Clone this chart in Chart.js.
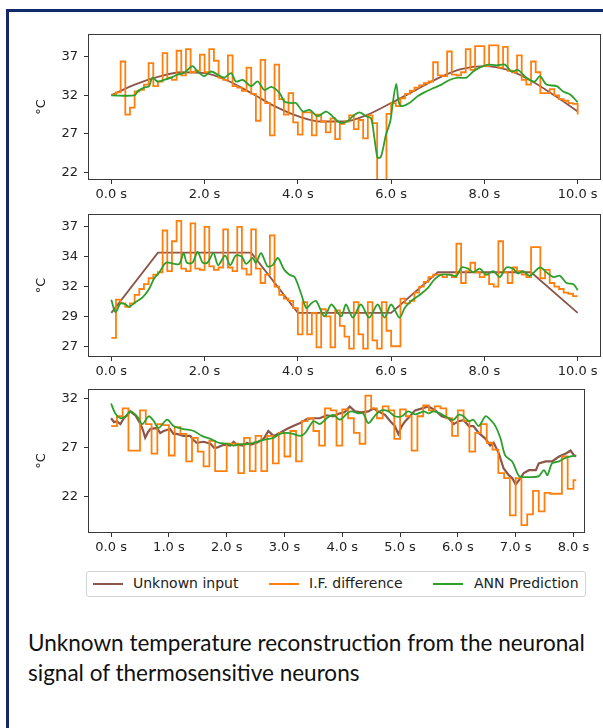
<!DOCTYPE html>
<html>
<head>
<meta charset="utf-8">
<script src="https://cdn.jsdelivr.net/npm/chart.js@4"></script>
<style>
  body { margin: 0; background: #fff; width: 603px; height: 728px; overflow: hidden; position: relative; font-family: "DejaVu Sans", sans-serif; }
  #box { position: absolute; left: 6px; top: 9px; width: 700px; height: 800px; border: 3px solid #13296b; box-sizing: border-box; }
  canvas { position: absolute; left: 0; }
  #legend { position: absolute; left: 86px; top: 571px; width: 500px; height: 26px; border: 1px solid #d4d4d4; border-radius: 3px; box-sizing: border-box; background: #fff; }
  #legend .ln { position: absolute; top: 11px; width: 30px; height: 2px; }
  #legend .lt { position: absolute; top: 3px; font-size: 14px; color: #222; white-space: nowrap; }
  #caption { position: absolute; left: 28px; top: 628px; font-family: Lato, sans-serif; color: #111; line-height: 30px; white-space: nowrap; }
</style>
</head>
<body>
<div id="box"></div>
<canvas id="c1" width="603" height="192" style="top:20px"></canvas>
<canvas id="c2" width="603" height="190" style="top:200px"></canvas>
<canvas id="c3" width="603" height="190" style="top:375px"></canvas>
<div id="legend">
  <span class="ln" style="left:6px;background:#8c564b"></span><span class="lt" style="left:46px">Unknown input</span>
  <span class="ln" style="left:182px;background:#ff7f0e"></span><span class="lt" style="left:222px">I.F. difference</span>
  <span class="ln" style="left:346px;background:#2ca02c"></span><span class="lt" style="left:387px">ANN Prediction</span>
</div>
<div id="caption"><div id="cap1">Unknown temperature reconstruction from the neuronal</div><div>signal of thermosensitive neurons</div></div>
<script>
// ---- panel 1 (sine input) ----
const xTicks1 = [0, 2, 4, 6, 8, 10];
const xLabels1 = ['0.0 s', '2.0 s', '4.0 s', '6.0 s', '8.0 s', '10.0 s'];
const yTicks1 = [22, 27, 32, 37];
const yLabels1 = ['22', '27', '32', '37'];
const inputT1 = [0, 0.5, 1, 1.5, 2, 2.5, 3, 3.5, 4, 4.5, 5, 5.5, 6, 6.5, 7, 7.5, 8, 8.5, 9, 9.5, 10];
const inputV1 = [32.0, 33.4, 34.4, 35.0, 34.9, 33.9, 32.3, 30.6, 29.3, 28.6, 28.6, 29.5, 31.0, 32.6, 34.2, 35.4, 35.8, 35.3, 33.9, 32.0, 29.9];
const ifDiff1 = [32.1, 32.4, 36.4, 29.5, 30.4, 32.5, 32.7, 33.4, 36.2, 33.2,
  33.8, 37.5, 34.3, 34.0, 37.8, 34.6, 38.0, 35.0, 35.2, 37.3,
  35.0, 38.0, 36.5, 34.3, 34.0, 37.2, 33.2, 33.0, 32.6, 35.6,
  32.2, 28.7, 36.6, 31.0, 26.8, 36.0, 31.5, 29.5, 32.3, 28.5,
  26.9, 29.8, 29.8, 26.8, 29.5, 28.6, 27.2, 29.0, 26.3, 28.3,
  28.6, 29.4, 27.6, 28.8, 26.4, 29.4, 28.4, 19.0, 19.0, 29.6,
  31.0, 30.6, 31.6, 32.2, 32.6, 33.0, 33.3, 33.6, 33.8, 36.3,
  34.6, 34.5, 37.7, 34.7, 34.6, 35.0, 38.0, 35.3, 38.4, 38.4,
  35.8, 38.5, 38.5, 35.6, 38.3, 35.2, 35.0, 37.2, 34.0, 33.4,
  36.4, 35.0, 32.3, 32.3, 32.8, 32.0, 31.5, 31.3, 31.0, 30.9, 29.5];
const annT1 = [0, 0.5, 0.56, 0.7, 0.81, 0.88, 0.99, 1.13, 1.28, 1.42, 1.56, 1.74, 1.85, 1.99, 2.14, 2.28, 2.42, 2.57, 2.67, 2.82,
  3.0, 3.14, 3.28, 3.43, 3.61, 3.71, 3.86, 3.96, 4.11, 4.25, 4.43, 4.61, 4.79, 4.93, 5.08, 5.18, 5.32, 5.46, 5.57, 5.64,
  5.71, 5.78, 5.89, 5.98, 6.04, 6.11, 6.16, 6.22, 6.39, 6.57, 6.75, 6.93, 7.08, 7.25, 7.43, 7.61, 7.76, 7.9, 8.08, 8.26,
  8.44, 8.58, 8.72, 8.9, 9.08, 9.19, 9.33, 9.55, 9.69, 9.84, 10];
const annV1 = [32.0, 32.0, 32.5, 33.0, 33.2, 34.3, 33.8, 34.0, 34.3, 34.7, 34.9, 35.8, 35.1, 34.5, 35.1, 34.7, 34.3, 34.9, 33.8, 34.0,
  33.2, 33.8, 32.7, 33.1, 32.3, 31.2, 31.0, 31.0, 29.9, 30.1, 29.3, 29.9, 29.0, 28.4, 28.7, 29.3, 29.8, 29.3, 29.0, 26.5,
  23.9, 24.0, 26.9, 28.6, 31.2, 33.5, 31.2, 30.6, 31.0, 31.9, 32.5, 33.0, 33.4, 34.0, 34.3, 34.3, 35.1, 35.6, 36.0, 35.9,
  36.0, 35.1, 35.3, 34.3, 33.8, 34.5, 33.4, 33.2, 32.5, 32.1, 31.1];

// ---- panel 2 (trapezoid input) ----
const xTicks2 = [0, 2, 4, 6, 8, 10];
const xLabels2 = ['0.0 s', '2.0 s', '4.0 s', '6.0 s', '8.0 s', '10.0 s'];
const yTicks2 = [27, 29.5, 32, 34.5, 37];
const yLabels2 = ['27', '29', '32', '34', '37'];
const inputT2 = [0, 1, 3, 4, 6, 7, 9, 10];
const inputV2 = [29.8, 34.85, 34.85, 29.8, 29.8, 33.2, 33.2, 29.8];
const ifDiff2 = [27.7, 30.9, 30.6, 30.3, 30.6, 31.3, 31.8, 32.2, 32.7, 33.0,
  33.2, 36.7, 33.3, 35.8, 37.5, 33.5, 33.3, 37.3, 33.5, 33.4,
  37.0, 33.7, 33.4, 33.6, 36.8, 33.6, 33.3, 37.0, 33.5, 33.0,
  36.8, 33.5, 32.3, 33.0, 36.3, 32.0, 31.3, 31.0, 30.8, 30.2,
  28.0, 30.7, 28.0, 29.8, 26.9, 30.1, 29.5, 26.9, 30.0, 28.7,
  27.8, 26.8, 30.7, 28.0, 26.8, 30.7, 27.5, 26.8, 30.7, 28.3,
  27.0, 27.0, 31.0, 30.6, 30.8, 31.5, 32.0, 32.4, 32.8, 33.0,
  33.0, 32.8, 33.0, 32.8, 35.6, 32.3, 33.3, 34.0, 33.2, 32.8,
  33.0, 32.2, 32.0, 35.8, 33.2, 32.3, 33.6, 33.3, 33.0, 32.8,
  35.3, 35.3, 32.7, 33.4, 32.3, 32.0, 31.8, 31.5, 31.4, 31.2, 31.2];
const annT2 = [0, 0.09, 0.2, 0.31, 0.38, 0.52, 0.67, 0.81, 0.92, 1.03, 1.17, 1.35, 1.46, 1.55, 1.62, 1.74, 1.85, 1.96, 2.06, 2.19,
  2.29, 2.44, 2.55, 2.67, 2.8, 2.89, 3.03, 3.1, 3.21, 3.35, 3.46, 3.57, 3.71, 3.82, 3.93, 4.07, 4.18, 4.29, 4.39, 4.57,
  4.72, 4.93, 5.03, 5.18, 5.35, 5.53, 5.71, 5.86, 6.0, 6.18, 6.29, 6.43, 6.61, 6.79, 6.93, 7.08, 7.25, 7.4, 7.51, 7.65,
  7.76, 7.9, 8.04, 8.19, 8.33, 8.47, 8.62, 8.72, 8.83, 8.97, 9.19, 9.33, 9.48, 9.62, 9.76, 9.91, 10];
const annV2 = [30.9, 29.85, 30.6, 30.5, 30.3, 30.7, 31.1, 31.8, 32.7, 33.2, 34.0, 33.9, 33.9, 34.8, 34.0, 34.0, 34.9, 34.0, 34.0, 34.8,
  33.8, 34.6, 33.8, 34.6, 34.5, 33.9, 34.4, 34.0, 34.8, 33.7, 33.8, 34.4, 33.4, 33.0, 32.8, 31.4, 30.2, 30.6, 30.8, 29.5,
  30.5, 29.5, 30.5, 29.4, 30.5, 29.4, 30.5, 29.4, 30.5, 29.4, 30.2, 30.8, 31.3, 31.9, 32.6, 33.0, 33.0, 32.9, 33.6, 33.5,
  33.2, 33.5, 33.0, 33.3, 32.8, 33.6, 33.5, 33.1, 33.3, 32.9, 33.6, 33.2, 32.8, 32.9, 32.3, 32.2, 31.7];

// ---- panel 3 (recorded input) ----
const xTicks3 = [0, 1, 2, 3, 4, 5, 6, 7, 8];
const xLabels3 = ['0.0 s', '1.0 s', '2.0 s', '3.0 s', '4.0 s', '5.0 s', '6.0 s', '7.0 s', '8.0 s'];
const yTicks3 = [22, 27, 32];
const yLabels3 = ['22', '27', '32'];
const inputT3 = [0, 0.05, 0.1, 0.16, 0.22, 0.28, 0.33, 0.42, 0.51, 0.55, 0.59, 0.64, 0.68, 0.79, 0.85, 0.91, 1.02, 1.08, 1.14, 1.25,
  1.37, 1.42, 1.48, 1.6, 1.72, 1.78, 1.83, 1.95, 2.06, 2.12, 2.18, 2.29, 2.35, 2.41, 2.52, 2.64, 2.72, 2.81, 2.92, 3.04,
  3.15, 3.27, 3.38, 3.5, 3.61, 3.73, 3.84, 3.96, 4.04, 4.13, 4.22, 4.33, 4.45, 4.54, 4.62, 4.74, 4.83, 4.91, 4.97, 5.03,
  5.09, 5.17, 5.26, 5.38, 5.49, 5.61, 5.72, 5.84, 5.93, 6.01, 6.1, 6.19, 6.27, 6.36, 6.48, 6.56, 6.62, 6.71, 6.79, 6.88,
  6.94, 7.0, 7.06, 7.14, 7.23, 7.35, 7.4, 7.52, 7.63, 7.75, 7.87, 7.95, 8.01, 8.04];
const inputV3 = [30.0, 29.6, 29.7, 29.4, 30.0, 30.3, 30.7, 30.3, 29.4, 28.8, 28.0, 28.6, 28.9, 29.0, 28.5, 28.7, 28.9, 28.4, 28.4, 28.2,
  28.2, 27.8, 27.5, 27.6, 27.4, 27.0, 27.0, 27.3, 27.2, 27.6, 27.3, 27.2, 27.5, 27.3, 27.5, 27.9, 28.7, 28.2, 28.5, 28.9,
  29.2, 29.5, 29.9, 30.0, 30.0, 30.3, 30.2, 30.5, 30.6, 31.2, 30.7, 30.6, 30.7, 31.0, 30.7, 30.35, 29.7, 29.2, 28.4, 29.2,
  29.7, 30.2, 30.8, 31.0, 31.2, 30.8, 30.2, 30.0, 29.4, 29.7, 29.8, 29.2, 29.2, 28.5, 27.9, 27.2, 27.5, 26.4, 24.9, 24.2,
  23.9, 23.25, 23.7, 24.4, 24.7, 24.7, 25.4, 25.6, 25.6, 26.1, 26.4, 26.7, 26.2, 26.1];
const ifDiff3 = [29.2, 30.2, 31.0, 26.7, 26.7, 30.8, 29.4, 26.4, 29.4, 29.3,
  26.2, 29.1, 28.4, 25.6, 28.0, 26.6, 25.1, 27.7, 24.6, 24.6,
  27.4, 27.4, 24.4, 28.0, 24.6, 28.2, 24.6, 28.2, 25.4, 28.5,
  26.1, 28.7, 25.6, 29.7, 30.0, 28.7, 27.2, 31.0, 30.8, 27.2,
  30.9, 30.0, 28.5, 27.4, 32.3, 31.0, 30.0, 31.2, 30.8, 27.9,
  30.9, 30.2, 26.7, 30.2, 31.3, 30.8, 31.2, 31.0, 30.0, 28.2,
  30.8, 29.7, 26.6, 28.5, 29.4, 27.5, 26.8, 24.4, 23.9, 20.1,
  23.9, 19.1, 20.2, 22.6, 20.5, 22.4, 22.3, 22.3, 26.1, 22.8, 23.7];
const ifEnd3 = 8.05;
const annT3 = [0, 0.07, 0.16, 0.25, 0.33, 0.45, 0.54, 0.65, 0.74, 0.82, 0.97, 1.08, 1.25, 1.43, 1.57, 1.72, 1.86, 2.0, 2.12, 2.23,
  2.35, 2.46, 2.58, 2.69, 2.81, 2.92, 3.04, 3.15, 3.27, 3.36, 3.5, 3.61, 3.73, 3.84, 3.96, 4.07, 4.15, 4.28, 4.36, 4.45,
  4.57, 4.68, 4.8, 4.91, 5.03, 5.14, 5.26, 5.41, 5.49, 5.58, 5.69, 5.84, 5.93, 6.01, 6.1, 6.19, 6.27, 6.36, 6.48, 6.56,
  6.65, 6.74, 6.82, 6.94, 7.06, 7.17, 7.29, 7.4, 7.49, 7.55, 7.63, 7.75, 7.84, 7.92, 8.05];
const annV3 = [31.5, 30.5, 30.0, 30.2, 30.7, 30.2, 29.4, 30.2, 29.7, 29.0, 29.85, 29.2, 28.9, 28.7, 28.2, 27.9, 27.5, 27.4, 27.2, 27.35,
  27.35, 27.5, 27.7, 27.85, 28.0, 28.4, 28.5, 28.4, 28.2, 28.5, 29.7, 29.4, 30.0, 30.35, 29.85, 30.4, 30.7, 30.5, 30.5, 29.5,
  30.3, 30.8, 30.7, 30.2, 30.2, 30.7, 30.4, 30.7, 30.5, 30.7, 30.5, 30.0, 29.85, 30.35, 30.2, 29.7, 29.85, 29.2, 30.2, 29.85,
  29.2, 27.9, 26.2, 25.6, 24.1, 24.0, 24.0, 24.1, 24.7, 24.2, 25.4, 25.6, 25.9, 26.05, 26.2];

const BROWN = '#8c564b', ORANGE = '#ff7f0e', GREEN = '#2ca02c';
const tickFont = { family: 'DejaVu Sans', size: 13 };

function pairs(ts, vs) { return ts.map((t, i) => ({ x: t, y: vs[i] })); }
function steps(vs, dt, end) {
  const p = vs.map((v, k) => ({ x: k * dt, y: v }));
  if (end !== undefined) p.push({ x: end, y: vs[vs.length - 1] });
  return p;
}

const framePlugin = {
  id: 'frame',
  afterDatasetsDraw(chart) {
    const { ctx, chartArea: a } = chart;
    ctx.save();
    ctx.strokeStyle = '#3a3a3a';
    ctx.lineWidth = 1;
    ctx.strokeRect(Math.round(a.left) + 0.5, Math.round(a.top) + 0.5, Math.round(a.width) - 1, Math.round(a.height) - 1);
    ctx.restore();
  }
};

function panel(id, cfg) {
  new Chart(document.getElementById(id), {
    type: 'line',
    data: {
      datasets: [
        { label: 'Unknown input', data: cfg.input, borderColor: BROWN, borderWidth: cfg.inputWidth || 1.8,
          pointRadius: 0, cubicInterpolationMode: cfg.smoothInput ? 'monotone' : 'default', tension: 0, order: 3 },
        { label: 'I.F. difference', data: cfg.ifd, borderColor: ORANGE, borderWidth: 1.8, pointRadius: 0, stepped: true, order: 2 },
        { label: 'ANN Prediction', data: cfg.ann, borderColor: GREEN, borderWidth: 1.8, pointRadius: 0, tension: 0.3, order: 1 }
      ]
    },
    options: {
      responsive: false,
      animation: false,
      events: [],
      layout: { padding: { top: cfg.padTop, right: cfg.padRight, left: 0, bottom: 0 } },
      plugins: { legend: { display: false }, tooltip: { enabled: false } },
      scales: {
        x: {
          type: 'linear', min: cfg.xMin, max: cfg.xMax,
          afterBuildTicks: s => { s.ticks = cfg.xTicks.map(v => ({ value: v })); },
          afterFit: s => { s.height = cfg.xHeight; },
          ticks: { callback: (v, i) => cfg.xLabels[i], color: '#222', font: tickFont, padding: 3, maxRotation: 0, autoSkip: false },
          grid: { drawOnChartArea: false, tickLength: 4, color: '#333' },
          border: { display: false }
        },
        y: {
          type: 'linear', min: cfg.yMin, max: cfg.yMax,
          afterBuildTicks: s => { s.ticks = cfg.yTicks.map(v => ({ value: v })); },
          afterFit: s => { s.width = 88; },
          ticks: { callback: (v, i) => cfg.yLabels[i], color: '#222', font: tickFont, padding: 6 },
          grid: { drawOnChartArea: false, tickLength: 4, color: '#333' },
          border: { display: false },
          title: { display: true, text: '°C', color: '#222', font: tickFont, padding: { top: 34, bottom: 0 } }
        }
      }
    },
    plugins: [framePlugin]
  });
}

panel('c1', {
  input: pairs(inputT1, inputV1), smoothInput: true,
  ifd: steps(ifDiff1, 0.1), ann: pairs(annT1, annV1),
  xMin: -0.5, xMax: 10.5, yMin: 21, yMax: 40,
  xTicks: xTicks1, xLabels: xLabels1, yTicks: yTicks1, yLabels: yLabels1,
  padTop: 13, padRight: 2, xHeight: 32
});
panel('c2', {
  input: pairs(inputT2, inputV2),
  ifd: steps(ifDiff2, 0.1), ann: pairs(annT2, annV2),
  xMin: -0.5, xMax: 10.5, yMin: 26.1, yMax: 38.1,
  xTicks: xTicks2, xLabels: xLabels2, yTicks: yTicks2, yLabels: yLabels2,
  padTop: 9, padRight: 2, xHeight: 33
});
panel('c3', {
  input: pairs(inputT3, inputV3), inputWidth: 2.2,
  ifd: steps(ifDiff3, 0.1, ifEnd3), ann: pairs(annT3, annV3),
  xMin: -0.4, xMax: 8.2, yMin: 18.3, yMax: 33.0,
  xTicks: xTicks3, xLabels: xLabels3, yTicks: yTicks3, yLabels: yLabels3,
  padTop: 10, padRight: 18, xHeight: 32
});

// caption sized so the first line spans the same width as in the slide
(function () {
  const c = document.createElement('canvas').getContext('2d');
  c.font = '20px Lato';
  const w = c.measureText(document.getElementById('cap1').textContent).width;
  document.getElementById('caption').style.fontSize = (20 * 557 / w).toFixed(2) + 'px';
})();
</script>
</body>
</html>
